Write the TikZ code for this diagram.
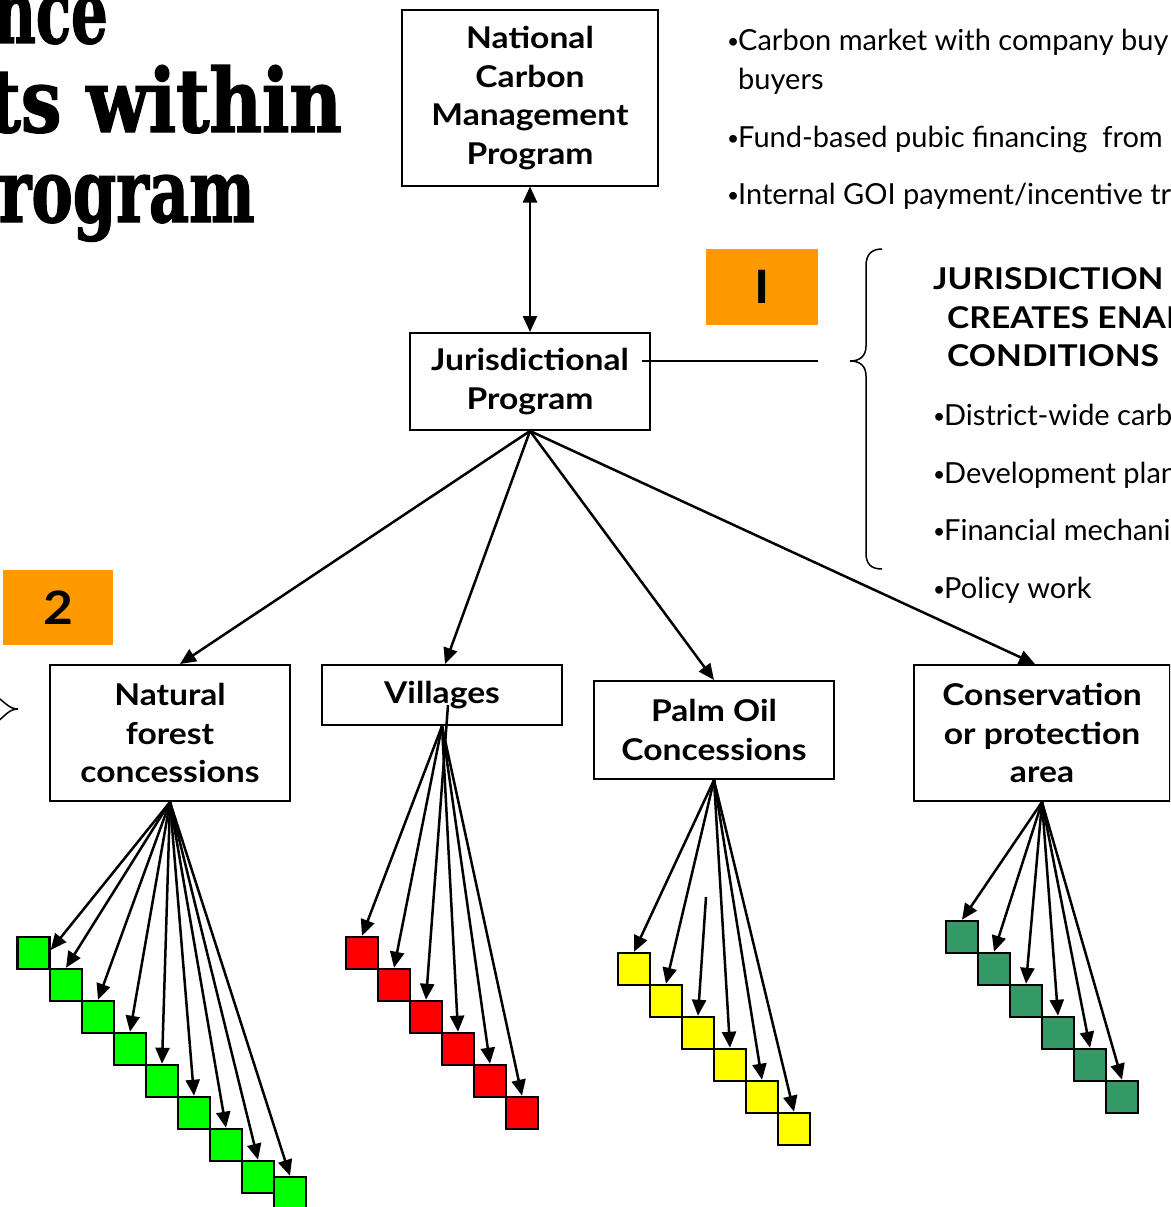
\documentclass[tikz,border=0pt]{standalone}
\usepackage{graphicx}
\usepackage{fontspec}
\setmainfont{Lato}
\newfontfamily\boxfont[FakeStretch=1.12]{Lato}
\newfontfamily\titlefont[FakeStretch=0.82,FakeBold=1.6]{DejaVu Serif}
\usetikzlibrary{arrows.meta}
\definecolor{tagorange}{HTML}{FF9900}
\definecolor{forestgreen}{HTML}{00FF00}
\definecolor{villagered}{HTML}{FF0000}
\definecolor{palmyellow}{HTML}{FFFF00}
\definecolor{reservegreen}{HTML}{339966}
\newcommand{\bul}{\makebox[11pt][l]{\raisebox{2pt}{\scalebox{0.72}{•}}}}
\begin{document}
\begin{tikzpicture}[x=1pt,y=-1pt,
  title/.style={anchor=base east, inner sep=0pt, font=\titlefont\bfseries\fontsize{88}{90}\selectfont},
  box/.style={draw, line width=2pt, align=center, inner sep=0pt,
    font=\boxfont\bfseries\fontsize{30}{38.5}\selectfont},
  tag/.style={fill=tagorange, inner sep=0pt, font=\boxfont\bfseries\fontsize{46}{46}\selectfont},
  txt/.style={anchor=base west, inner sep=0pt, font=\fontsize{29}{35}\selectfont},
  head/.style={anchor=base west, inner sep=0pt, font=\boxfont\bfseries\fontsize{30}{36}\selectfont},
  link/.style={line width=2.5pt, -{Triangle[length=16pt,width=14pt]}},
  dlink/.style={line width=2.5pt, {Triangle[length=16pt,width=14pt]}-{Triangle[length=16pt,width=14pt]}},
  cell/.style={draw, line width=2.5pt, minimum size=32pt, inner sep=0pt},
  curly/.style={line width=1.5pt}]
\useasboundingbox (0,0) rectangle (1170,1207);
\clip (0,0) rectangle (1170,1207);

% title lines
\node[title] (t1) at (108,43) {\scalebox{0.8}[1]{nce}};
\node[title] (t2) at (342,132) {ts within};
\node[title] (t3) at (255,222) {\scalebox{0.86}[1]{rogram}};

% program boxes
\node[box, minimum width=256pt, minimum height=175pt] (ncmp) at (530,98) {National\\Carbon\\Management\\Program};
\node[box, minimum width=240pt, minimum height=97pt] (jp) at (530,381.5) {Jurisdictional\\Program};
\node[box, minimum width=240pt, minimum height=136pt] (nfc) at (170,733) {Natural\\forest\\concessions};
\node[box, minimum width=240pt, minimum height=60pt] (vil) at (442,695) {Villages};
\node[box, minimum width=240pt, minimum height=98pt] (palm) at (714,730) {Palm Oil\\Concessions};
\node[box, minimum width=256pt, minimum height=136pt] (cons) at (1042,733) {Conservation\\or protection\\area};

% numbered tags
\node[tag, minimum width=112pt, minimum height=76pt] (tagI) at (762,287) {I};
\node[tag, minimum width=110pt, minimum height=75pt] (tag2) at (58,607.5) {2};

% financing options
\node[txt] (f1) at (727,51) {\bul Carbon market with company buy};
\node[txt] (f2) at (738,89) {buyers};
\node[txt] (f3) at (727,147) {\bul Fund-based pubic financing\ \ from};
\node[txt] (f4) at (727,204) {\bul Internal GOI payment/incentive transfers};

% enabling conditions
\node[head] (h1) at (933,289) {JURISDICTION};
\node[head] (h2) at (947,328) {CREATES ENABLING};
\node[head] (h3) at (947,366) {CONDITIONS};
\node[txt] (c1) at (933,425) {\bul District-wide carbon};
\node[txt] (c2) at (933,483) {\bul Development plan};
\node[txt] (c3) at (933,540) {\bul Financial mechanism};
\node[txt] (c4) at (933,598) {\bul Policy work};

% braces
\draw[curly] (882,249) .. controls (871,249) and (866,255) .. (866,266) -- (866,346)
  .. controls (866,356) and (860,361) .. (850,361)
  .. controls (860,361) and (866,366) .. (866,376) -- (866,553)
  .. controls (866,564) and (871,569) .. (882,569);
\draw[curly] (-3,697) .. controls (5,702) and (9,709) .. (18,709)
  .. controls (9,709) and (5,716) .. (-3,722);

% free ends
\coordinate (jx) at (642,361);
\coordinate (bx) at (818,361);
\coordinate (vx) at (448,705);
\coordinate (px) at (706,897);

% main connectors
\draw[dlink] (ncmp.south) -- (jp.north);
\draw[line width=2pt] (jx) -- (bx);
\draw[link] (jp.south) -- ([xshift=10pt]nfc.north);
\draw[link] (jp.south) -- ([xshift=3pt]vil.north);
\draw[link] (jp.south) -- (palm.north);
\draw[link] (jp.south) -- ([xshift=-7pt]cons.north);

% forest concession units
\foreach \i/\cx/\cy in {1/33.5/953,2/66/985,3/98/1017,4/130/1049,5/162/1081,6/194/1113,7/226/1145,8/258/1177,9/290/1193}
  \node[cell, fill=forestgreen] (n\i) at (\cx,\cy) {};
\draw[link] (nfc.south) -- (n1.10);
\foreach \i in {2,...,9}
  \draw[link] (nfc.south) -- (n\i.north);

% village units
\foreach \i/\cx/\cy in {1/362/953,2/394/985,3/426/1017,4/458/1049,5/490/1081,6/522/1113}
  \node[cell, fill=villagered] (v\i) at (\cx,\cy) {};
\foreach \i in {1,2,4,5,6}
  \draw[link] (vil.south) -- (v\i.north);
\draw[link] (vx) -- (v3.north);

% palm oil units
\foreach \i/\cx/\cy in {1/634/969,2/666/1001,3/698/1033,4/730/1065,5/762/1097,6/794/1129}
  \node[cell, fill=palmyellow] (p\i) at (\cx,\cy) {};
\foreach \i in {1,2,4,5,6}
  \draw[link] (palm.south) -- (p\i.north);
\draw[link] (px) -- (p3.north);

% conservation units
\foreach \i/\cx/\cy in {1/962/937,2/994/969,3/1026/1001,4/1058/1033,5/1090/1065,6/1122/1097}
  \node[cell, fill=reservegreen] (r\i) at (\cx,\cy) {};
\foreach \i in {1,...,6}
  \draw[link] (cons.south) -- (r\i.north);
\end{tikzpicture}
\end{document}
